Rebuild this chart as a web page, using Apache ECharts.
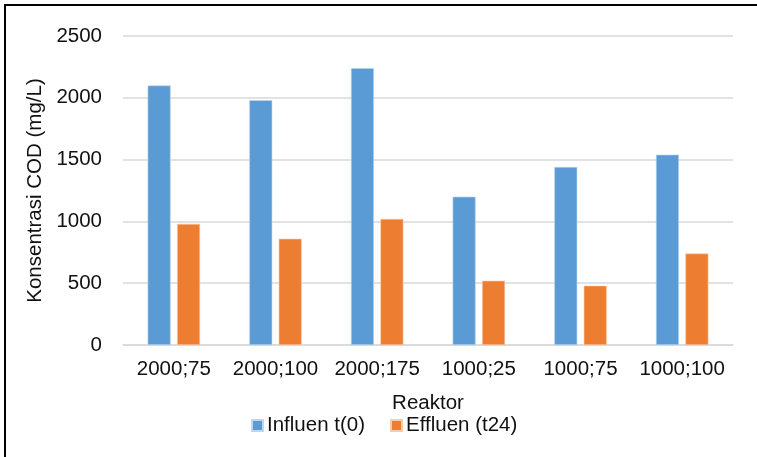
<!DOCTYPE html>
<html>
<head>
<meta charset="utf-8">
<script src="https://cdn.jsdelivr.net/npm/echarts@6/dist/echarts.min.js"></script>
<style>
html,body{margin:0;padding:0;background:#fff;}
#chart{width:757px;height:457px;}
</style>
</head>
<body>
<div id="chart"></div>
<script>
const categories = ['2000;75', '2000;100', '2000;175', '1000;25', '1000;75', '1000;100'];
const influen = [2100, 1980, 2240, 1200, 1440, 1540];
const effluen = [980, 860, 1020, 520, 480, 740];
const yTicks = [0, 500, 1000, 1500, 2000, 2500];
const seriesNames = ['Influen t(0)', 'Effluen (t24)'];
const xTitle = 'Reaktor';
const yTitle = 'Konsentrasi COD (mg/L)';

const FONT = '"Liberation Sans", Arial, sans-serif';
const FS = 20.5;
const chart = echarts.init(document.getElementById('chart'), null, {renderer: 'canvas'});
chart.setOption({
  animation: false,
  backgroundColor: '#fff',
  textStyle: {fontFamily: FONT},
  graphic: [{
    type: 'rect',
    shape: {x: 5, y: 5, width: 900, height: 700},
    style: {fill: 'none', stroke: '#000', lineWidth: 2},
    silent: true, z: 100
  }],
  grid: {left: 123, right: 24, top: 36, bottom: 112, containLabel: false},
  legend: {
    left: 246, top: 410,
    itemWidth: 11, itemHeight: 11, itemGap: 25,
    icon: 'rect',
    textStyle: {fontFamily: FONT, fontSize: FS, color: '#111', padding: [0, 0, 0, -1]},
    data: seriesNames
  },
  xAxis: {
    type: 'category',
    data: categories,
    name: xTitle,
    nameLocation: 'middle',
    nameGap: 48,
    nameTextStyle: {fontFamily: FONT, fontSize: FS, color: '#111'},
    axisLine: {show: true, lineStyle: {color: '#D9D9D9', width: 1.5}},
    axisTick: {show: false},
    axisLabel: {fontFamily: FONT, fontSize: FS, color: '#111', margin: 14, interval: 0}
  },
  yAxis: {
    type: 'value',
    min: yTicks[0], max: yTicks[yTicks.length - 1], interval: 500,
    name: yTitle,
    nameLocation: 'middle',
    nameGap: 76,
    nameTextStyle: {fontFamily: FONT, fontSize: FS, color: '#111'},
    axisLine: {show: false},
    axisTick: {show: false},
    axisLabel: {fontFamily: FONT, fontSize: FS, color: '#111', margin: 21,
      formatter: function (v) { return String(v); }},
    splitLine: {lineStyle: {color: '#D9D9D9', width: 1.5}}
  },
  series: [
    {name: seriesNames[0], type: 'bar', data: influen, barWidth: 23, barGap: '28%',
     itemStyle: {color: '#5B9BD5', borderColor: '#BDD7EE', borderWidth: 0.6}},
    {name: seriesNames[1], type: 'bar', data: effluen, barWidth: 23, barGap: '28%',
     itemStyle: {color: '#ED7D31', borderColor: '#F8CBAD', borderWidth: 0.6}}
  ]
});
</script>
</body>
</html>
